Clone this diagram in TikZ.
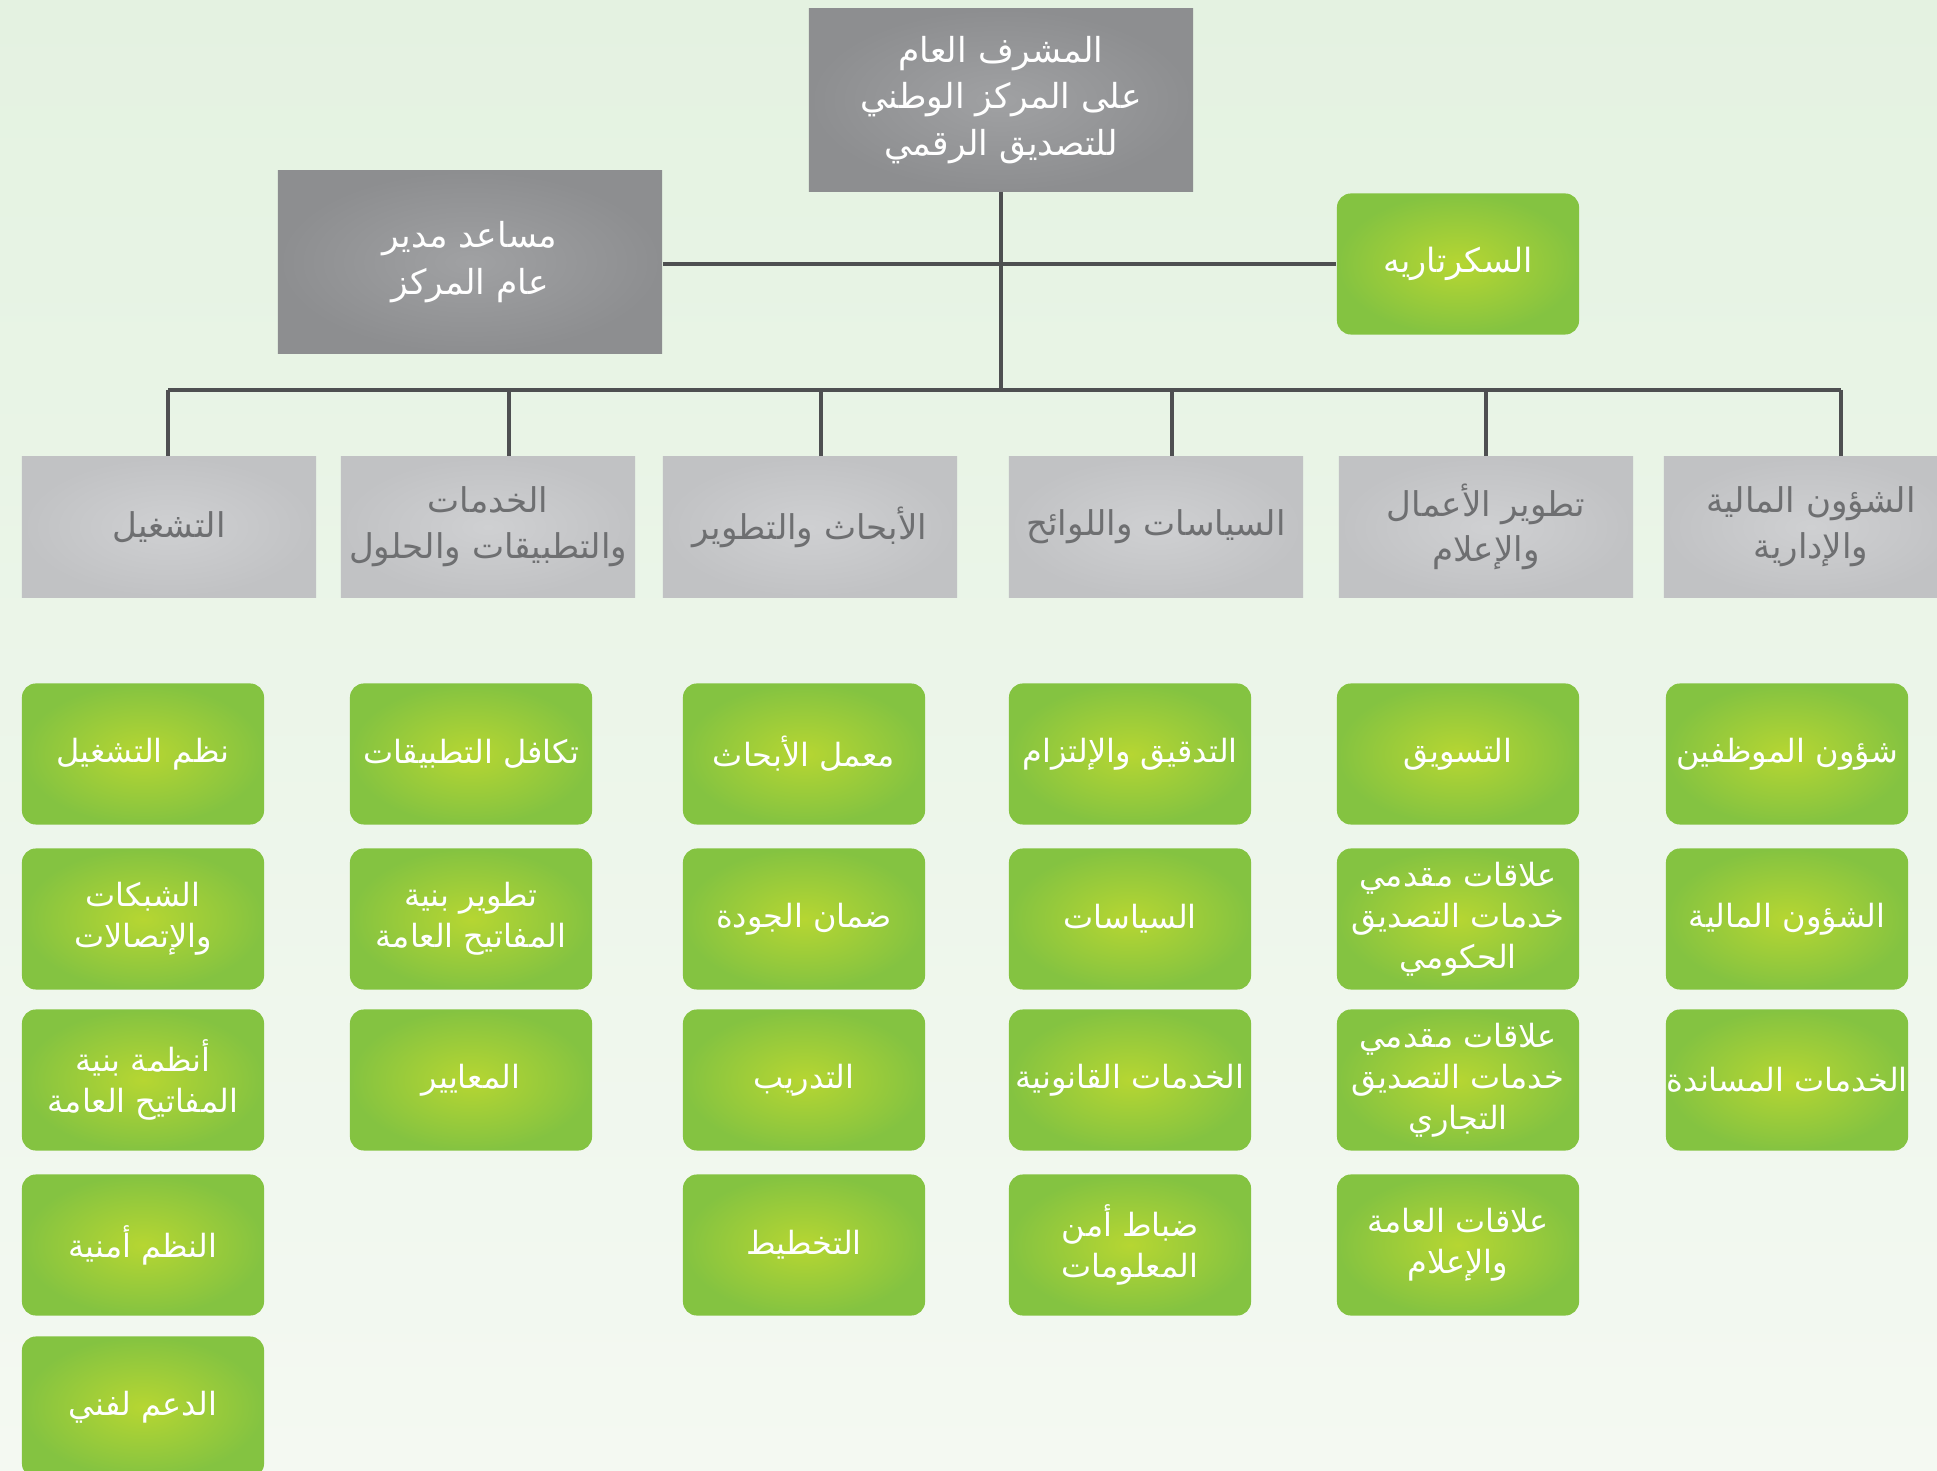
\documentclass[tikz,border=0pt]{standalone}
\usepackage{fontspec}
\usepackage{tikz}
\newfontfamily\arabicfont[Script=Arabic]{DejaVu Sans}
\TeXXeTstate=1
\newcommand{\ar}[1]{\beginR #1\endR}

\definecolor{bgtop}{HTML}{E4F2E1}
\definecolor{bgbot}{HTML}{F4F9F2}
\definecolor{headin}{HTML}{A0A1A3}
\definecolor{headout}{HTML}{8D8E90}
\definecolor{deptin}{HTML}{CFD0D2}
\definecolor{deptout}{HTML}{C1C2C4}
\definecolor{depttext}{HTML}{6E6F71}
\definecolor{unitin}{HTML}{B6D632}
\definecolor{unitout}{HTML}{84C341}
\definecolor{linegray}{HTML}{4E4F51}

\begin{document}
\begin{tikzpicture}[x=0.01cm,y=-0.01cm,
	headbox/.style={rectangle,inner sep=0pt,align=center,minimum width=3.84cm,minimum height=1.82cm,
		inner color=headin,outer color=headout,text=white,font=\arabicfont\fontsize{9.8}{13.2}\selectfont},
	deptbox/.style={rectangle,inner sep=0pt,align=center,minimum width=2.94cm,minimum height=1.40cm,
		inner color=deptin,outer color=deptout,text=depttext,font=\arabicfont\fontsize{9.7}{13}\selectfont},
	unitbox/.style={rectangle,rounded corners=0.14cm,inner sep=0pt,align=center,minimum width=2.42cm,minimum height=1.41cm,
		inner color=unitin,outer color=unitout,text=white,font=\arabicfont\fontsize{9.1}{11.6}\selectfont},
	link/.style={draw=linegray,line width=1pt}]
	\useasboundingbox (0,0) rectangle (1937,1471);
	\shade[top color=bgtop,bottom color=bgbot] (0,0) rectangle (1937,1471);

	% top level
	\node[headbox] (head) at (1001,100) {\ar{المشرف العام}\\\ar{على المركز الوطني}\\\ar{للتصديق الرقمي}};
	\node[headbox] (asst) at (470,262) {\ar{مساعد مدير}\\\ar{عام المركز}};
	\node[unitbox,font=\arabicfont\fontsize{9.5}{12}\selectfont] (secr) at (1458,264) {\ar{السكرتاريه}};
	\coordinate (bus) at (1001,390);
	\draw[link] (head) -- (bus);
	\draw[link] (asst.east |- secr) -- (secr.west);

	% departments
	\node[deptbox] (ops) at (169,527) {\ar{التشغيل}};
	\node[deptbox] (apps) at (488,527) {\ar{الخدمات}\\\ar{والتطبيقات والحلول}};
	\node[deptbox] (rnd) at (810,527) {\ar{الأبحاث والتطوير}};
	\node[deptbox] (pol) at (1156,527) {\ar{السياسات واللوائح}};
	\node[deptbox] (biz) at (1486,527) {\ar{تطوير الأعمال}\\\ar{والإعلام}};
	\node[deptbox] (fin) at (1811,527) {\ar{الشؤون المالية}\\\ar{والإدارية}};

	\coordinate (j1) at (168,390);
	\coordinate (j2) at (509,390);
	\coordinate (j3) at (821,390);
	\coordinate (j4) at (1172,390);
	\coordinate (j5) at (1486,390);
	\coordinate (j6) at (1841,390);
	\draw[link] (j1) -- (j6);
	\draw[link] (j1) -- (j1 |- ops.north);
	\draw[link] (j2) -- (j2 |- apps.north);
	\draw[link] (j3) -- (j3 |- rnd.north);
	\draw[link] (j4) -- (j4 |- pol.north);
	\draw[link] (j5) -- (j5 |- biz.north);
	\draw[link] (j6) -- (j6 |- fin.north);

	% units
	\node[unitbox] (op1) at (143,754) {\ar{نظم التشغيل}};
	\node[unitbox] (op2) at (143,919) {\ar{الشبكات}\\\ar{والإتصالات}};
	\node[unitbox] (op3) at (143,1080) {\ar{أنظمة بنية}\\\ar{المفاتيح العامة}};
	\node[unitbox] (op4) at (143,1245) {\ar{النظم أمنية}};
	\node[unitbox] (op5) at (143,1407) {\ar{الدعم لفني}};

	\node[unitbox] (ap1) at (471,754) {\ar{تكافل التطبيقات}};
	\node[unitbox] (ap2) at (471,919) {\ar{تطوير بنية}\\\ar{المفاتيح العامة}};
	\node[unitbox] (ap3) at (471,1080) {\ar{المعايير}};

	\node[unitbox] (rd1) at (804,754) {\ar{معمل الأبحاث}};
	\node[unitbox] (rd2) at (804,919) {\ar{ضمان الجودة}};
	\node[unitbox] (rd3) at (804,1080) {\ar{التدريب}};
	\node[unitbox] (rd4) at (804,1245) {\ar{التخطيط}};

	\node[unitbox] (po1) at (1130,754) {\ar{التدقيق والإلتزام}};
	\node[unitbox] (po2) at (1130,919) {\ar{السياسات}};
	\node[unitbox] (po3) at (1130,1080) {\ar{الخدمات القانونية}};
	\node[unitbox] (po4) at (1130,1245) {\ar{ضباط أمن}\\\ar{المعلومات}};

	\node[unitbox] (bd1) at (1458,754) {\ar{التسويق}};
	\node[unitbox] (bd2) at (1458,919) {\ar{علاقات مقدمي}\\\ar{خدمات التصديق}\\\ar{الحكومي}};
	\node[unitbox] (bd3) at (1458,1080) {\ar{علاقات مقدمي}\\\ar{خدمات التصديق}\\\ar{التجاري}};
	\node[unitbox] (bd4) at (1458,1245) {\ar{علاقات العامة}\\\ar{والإعلام}};

	\node[unitbox] (fa1) at (1787,754) {\ar{شؤون الموظفين}};
	\node[unitbox] (fa2) at (1787,919) {\ar{الشؤون المالية}};
	\node[unitbox] (fa3) at (1787,1080) {\ar{الخدمات المساندة}};
\end{tikzpicture}
\end{document}
